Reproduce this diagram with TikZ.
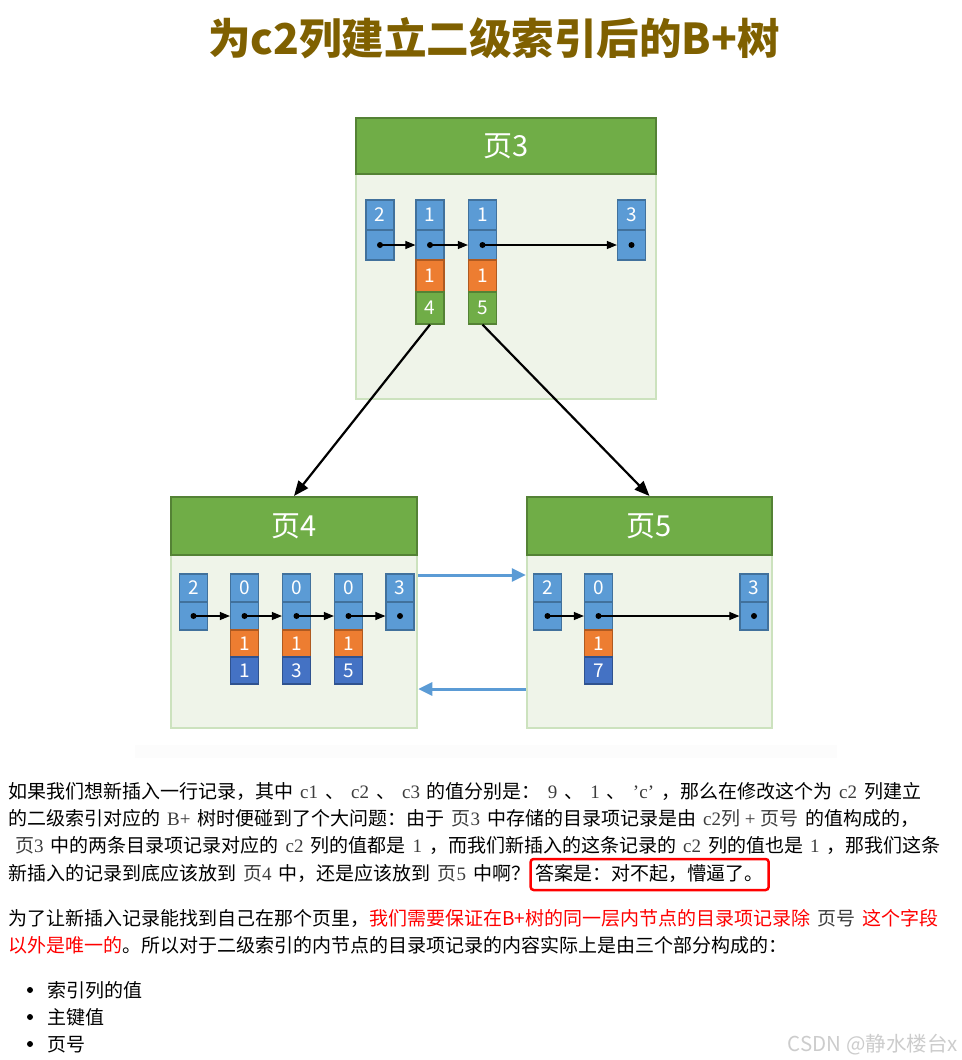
\documentclass[tikz,border=0pt]{standalone}
\usepackage{fontspec}
\setmainfont{Noto Sans CJK SC}
\newfontfamily\cjk{Noto Sans CJK SC}
\newfontfamily\codefont{Liberation Serif}
\usetikzlibrary{arrows.meta,positioning,calc}
\usepackage{xcolor}
\definecolor{titlebrown}{RGB}{127,96,0}
\definecolor{hdrgreen}{RGB}{112,173,71}
\definecolor{hdrborder}{RGB}{84,130,53}
\definecolor{bodygreen}{RGB}{239,244,233}
\definecolor{bodyborder}{RGB}{204,226,190}
\definecolor{cellblue}{RGB}{91,155,213}
\definecolor{cellblueb}{RGB}{65,113,156}
\definecolor{cellorange}{RGB}{237,125,49}
\definecolor{cellorangeb}{RGB}{174,90,33}
\definecolor{celldark}{RGB}{68,114,196}
\definecolor{celldarkb}{RGB}{47,82,143}
\definecolor{codegray}{RGB}{60,60,60}
\definecolor{linkblue}{RGB}{91,155,213}
\newcommand\cd[1]{\hspace{7pt}{\codefont\fontsize{19}{19}\selectfont\color{codegray}#1}\hspace{7pt}}

\begin{document}
\begin{tikzpicture}[x=1pt, y=-1pt,
    cell/.style={draw=cellblueb, fill=cellblue, line width=1.2pt, minimum width=28pt,
      inner sep=0pt, text=white, font=\fontsize{19}{19}\selectfont},
    c2cell/.style={cell, fill=cellorange, draw=cellorangeb},
    pgcell/.style={cell, fill=hdrgreen, draw=hdrborder},
    idcell/.style={cell, fill=celldark, draw=celldarkb},
    pagebody/.style={draw=bodyborder, fill=bodygreen, line width=2.5pt, inner sep=0pt},
    pagehdr/.style={draw=hdrborder, fill=hdrgreen, line width=2pt, inner sep=0pt,
      text=white, font=\fontsize{29}{29}\selectfont},
    reclink/.style={-{Triangle[length=10pt,width=8pt]}, line width=1.1pt},
    treelink/.style={-{Triangle[length=15pt,width=12pt]}, line width=2.2pt},
    sib/.style={-{Triangle[length=14pt,width=13pt]}, line width=3pt, draw=linkblue},
    txt/.style={anchor=base west, inner sep=0pt, font=\fontsize{19}{19}\selectfont},
    bullet/.style={circle, fill, inner sep=0pt, minimum size=6pt},
    redbox/.style={draw=red, line width=2.5pt, rounded corners=3pt, inner xsep=5pt,
      inner ysep=6pt, text height=15pt, text depth=4pt}]
    \useasboundingbox (0,0) rectangle (961,1060);

    % 标题
    \node[text=titlebrown, font=\fontsize{42.5}{42.5}\selectfont\bfseries] (ttl) at (494,38)
      {为c2列建立二级索引后的B+树};

    % 底纹
    \fill[black!1] (135,745) rectangle (837,758);

    % 页
    \node[pagebody, minimum width=300pt, minimum height=281pt] (p3) at (506,258.5) {};
    \node[pagehdr, minimum width=300pt, minimum height=56pt] (p3h) at (506,146) {页3};
    \node[pagebody, minimum width=246pt, minimum height=231pt] (p4) at (294,612.5) {};
    \node[pagehdr, minimum width=246pt, minimum height=58pt] (p4h) at (294,526) {页4};
    \node[pagebody, minimum width=245pt, minimum height=231pt] (p5) at (649.5,612.5) {};
    \node[pagehdr, minimum width=245pt, minimum height=58pt] (p5h) at (649.5,526) {页5};

    % 页3 的目录项记录
    \foreach \i/\x/\v in {a/380/2, b/430/1, c/482.5/1, d/631.5/3} {
        \node[cell, minimum height=30pt] (p3\i k) at (\x,215) {\v};
        \node[cell, minimum height=30pt] (p3\i p) at (\x,245) {};
        \fill (\x,245) circle (3pt);
    }
    \node[c2cell, minimum height=32pt] (p3bc) at (430,276) {1};
    \node[pgcell, minimum height=32pt] (p3bn) at (430,308) {4};
    \node[c2cell, minimum height=32pt] (p3cc) at (482.5,276) {1};
    \node[pgcell, minimum height=32pt] (p3cn) at (482.5,308) {5};
    \draw[reclink] (p3ap.center) -- (p3bp.west);
    \draw[reclink] (p3bp.center) -- (p3cp.west);
    \draw[reclink] (p3cp.center) -- (p3dp.west);

    % 页4 的记录
    \foreach \i/\x/\v in {a/193.5/2, b/244.5/0, c/296.5/0, d/348.5/0, e/400/3} {
        \node[cell, minimum height=28pt] (p4\i k) at (\x,588) {\v};
        \node[cell, minimum height=28pt] (p4\i p) at (\x,616) {};
        \fill (\x,616) circle (3pt);
    }
    \foreach \i/\x/\v in {b/244.5/1, c/296.5/3, d/348.5/5} {
        \node[c2cell, minimum height=27pt] (p4\i c) at (\x,643.5) {1};
        \node[idcell, minimum height=27pt] (p4\i n) at (\x,670.5) {\v};
    }
    \draw[reclink] (p4ap.center) -- (p4bp.west);
    \draw[reclink] (p4bp.center) -- (p4cp.west);
    \draw[reclink] (p4cp.center) -- (p4dp.west);
    \draw[reclink] (p4dp.center) -- (p4ep.west);

    % 页5 的记录
    \foreach \i/\x/\v in {a/547.5/2, b/598.5/0, c/754/3} {
        \node[cell, minimum height=28pt] (p5\i k) at (\x,588) {\v};
        \node[cell, minimum height=28pt] (p5\i p) at (\x,616) {};
        \fill (\x,616) circle (3pt);
    }
    \node[c2cell, minimum height=27pt] (p5bc) at (598.5,643.5) {1};
    \node[idcell, minimum height=27pt] (p5bn) at (598.5,670.5) {7};
    \draw[reclink] (p5ap.center) -- (p5bp.west);
    \draw[reclink] (p5bp.center) -- (p5cp.west);

    % 父子页之间
    \draw[treelink] (p3bn.south) -- (p4h.north);
    \draw[treelink] (p3cn.south) -- (p5h.north);

    % 兄弟页之间
    \draw[sib] ([yshift=37.5pt]p4.east) -- ([yshift=37.5pt]p5.west);
    \draw[sib] ([yshift=-76.5pt]p5.west) -- ([yshift=-76.5pt]p4.east);

    % 正文
    \node[txt] (l1) at (8,798) {如果我们想新插入一行记录，其中\cd{c1}、\cd{c2}、\cd{c3}的值分别是：\cd{9}、\cd{1}、\cd{’c’}，那么在修改这个为\cd{c2}列建立};
    \node[txt] (l2) at (8,825) {的二级索引对应的\cd{B+}树时便碰到了个大问题：由于\cd{{\cjk 页}3}中存储的目录项记录是由\cd{c2{\cjk 列} + {\cjk 页号}}的值构成的，};
    \node[txt] (l3) at (8,852) {\cd{{\cjk 页}3}中的两条目录项记录对应的\cd{c2}列的值都是\cd{1}，而我们新插入的这条记录的\cd{c2}列的值也是\cd{1}，那我们这条};
    \node[txt] (l4) at (8,880) {新插入的记录到底应该放到\cd{{\cjk 页}4}中，还是应该放到\cd{{\cjk 页}5}中啊？};
    \node[txt, redbox] (ans) at ([xshift=-1pt]l4.base east) {答案是：对不起，懵逼了。};

    \node[txt] (l5) at (8,925) {为了让新插入记录能找到自己在那个页里，{\color{red}我们需要保证在B+树的同一层内节点的目录项记录除}\cd{{\cjk 页号}}{\color{red}这个字段}};
    \node[txt] (l6) at (8,952) {{\color{red}以外是唯一的}。所以对于二级索引的内节点的目录项记录的内容实际上是由三个部分构成的：};

    % 列表
    \foreach \n/\y/\t in {1/997/索引列的值, 2/1024/主键值, 3/1051/页号} {
        \node[bullet] (dot\n) at (30,\y-7) {};
        \node[txt] (item\n) at (47,\y) {\t};
    }

    % 水印
    \node[anchor=base east, inner sep=0pt, text=black!20, font=\fontsize{20.5}{20.5}\selectfont]
      (wm) at (958,1051) {CSDN @静水楼台x};
\end{tikzpicture}
\end{document}
